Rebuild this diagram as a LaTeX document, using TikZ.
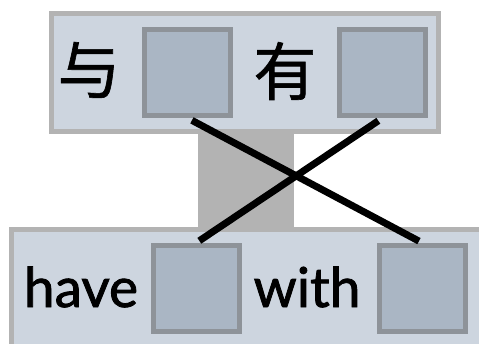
\documentclass[tikz,border=0pt]{standalone}
\usepackage{fontspec}
\setmainfont[FakeBold=1.5]{Lato}
\newfontfamily\cjkfont[FakeBold=1]{Noto Sans CJK SC}
\definecolor{barfill}{HTML}{CDD5DF}
\definecolor{barrim}{HTML}{B3B3B3}
\definecolor{slotfill}{HTML}{AAB6C4}
\definecolor{slotrim}{HTML}{8E9399}
\definecolor{stemgray}{HTML}{B3B3B3}
\begin{document}
\begin{tikzpicture}[x=1pt,y=-1pt,
  bar/.style={fill=barfill, draw=barrim, line width=5pt},
  slot/.style={fill=slotfill, draw=slotrim, line width=5pt, minimum size=86pt, inner sep=0pt},
  word/.style={font=\fontsize{55}{55}\selectfont, text=black, inner sep=0pt},
  hanzi/.style={font=\cjkfont\fontsize{63}{63}\selectfont, text=black, inner sep=0pt},
  link/.style={line width=7pt, black, line cap=butt}]
\useasboundingbox (0,0) rectangle (479,343);
\clip (0,0) rectangle (479,343);
% stem joining the two phrase bars
\fill[stemgray] (198,130) rectangle (294,229);
% phrase bars
\draw[bar] (51.5,13.5) rectangle (438.5,131.5);
\draw[bar] (11.5,229.5) rectangle (500,360);
% slots
\node[slot] (s1) at (187.5,72.5) {};
\node[slot] (s2) at (382.5,72.5) {};
\node[slot] (s3) at (196,288.5) {};
\node[slot] (s4) at (422.5,288.5) {};
% words
\node[hanzi] (yu) at (89,70) {与};
\node[hanzi] (you) at (285,71) {有};
\node[word, anchor=base] (have) at (81,307) {have};
\node[word, anchor=base] (with) at (307,307) {with};
% crossing links between slots
\draw[link, shorten <=5pt, shorten >=4pt] (s1.south) -- (s4.north);
\draw[link, shorten <=5pt, shorten >=4pt] (s2.south) -- (s3.north);
\end{tikzpicture}
\end{document}
